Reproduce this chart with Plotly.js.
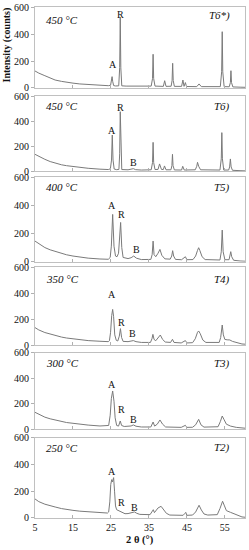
<!DOCTYPE html>
<html>
<head>
<meta charset="utf-8">
<script src="https://cdn.plot.ly/plotly-3.0.1.min.js"></script>
<style>html,body{margin:0;padding:0;background:#fff;}#chart{width:249px;height:550px;}</style>
</head>
<body>
<div id="chart"></div>
<script>
// ---- Data (2θ in degrees, intensity in counts) ----
const tempLabels = ["450 °C", "450 °C", "400 °C", "350 °C", "300 °C", "250 °C"];
const sampleLabels = ["T6*)", "T6)", "T5)", "T4)", "T3)", "T2)"];
const xTicks = [5, 15, 25, 35, 45, 55];
const yTicks = [0, 200, 400, 600];

const t6sX = [5,6,7.6,9,10.3,12,13.3,15,16.8,19,22.1,24.3,24.9,25.15,25.3,25.45,25.7,26.2,27.05,27.3,27.45,27.6,27.85,29,32,35.6,35.95,36.1,36.25,36.6,38.8,39.15,39.5,40.85,41.1,41.25,41.4,41.7,43.6,43.95,44.25,44.6,44.9,47.6,48.2,48.8,53.8,54.15,54.3,54.45,54.8,56.15,56.45,56.6,56.75,57.1,59,60.5];
const t6sY = [126,110,91,73,59,49,42,36,30,25,20,17,20,50,84,50,18,15,16,150,525,150,16,14,13,14,70,250,70,14,12,54,12,13,55,183,55,12,12,59,12,40,11,10,30,10,10,120,417,120,10,9,40,128,40,8,6,5];

const t6X = [5,6,7.6,9,10.3,12,13.3,15,16.8,19,22.1,24.3,24.85,25.15,25.35,25.55,25.85,26.5,27.1,27.3,27.45,27.6,27.85,29.5,30.4,30.9,31.5,33,35.6,35.95,36.1,36.25,36.6,37.4,37.8,38.3,38.8,39.1,39.5,40.8,41.05,41.2,41.35,41.7,43.6,43.9,44.3,47.2,47.6,47.8,48.1,48.6,53.7,54.05,54.2,54.35,54.7,56.0,56.25,56.45,56.65,57.0,59,60.5];
const t6Y = [136,118,96,78,64,52,45,38,31,24,17,14,20,90,291,90,18,13,15,140,478,140,14,12,14,21,13,10,12,70,232,70,14,15,59,15,14,43,12,12,45,136,45,11,10,40,10,12,40,72,40,12,10,100,310,100,10,10,35,99,35,8,5,3];

const t5X = [5,6,7.6,9,10.3,12,13.3,15,16.8,19,22.1,24.3,24.8,25.1,25.45,25.8,26.2,26.6,27.0,27.3,27.55,27.85,28.2,29.5,30.3,31.0,31.7,33,35.5,35.85,36.1,36.35,36.8,37.4,37.9,38.4,39.2,40.6,41.0,41.25,41.5,42,43.6,44.6,45.0,46.6,47.3,47.8,48.1,48.4,49.0,49.8,53.7,54.05,54.3,54.55,55.0,56.1,56.35,56.55,56.8,57.3,59,60.5];
const t5Y = [146,126,100,84,72,57,49,40,32,25,19,17,30,110,335,110,40,35,60,150,278,100,30,22,28,40,25,15,16,50,146,50,35,60,87,45,20,18,40,78,40,16,14,35,14,15,40,80,99,80,35,15,12,70,224,70,14,14,40,71,35,10,5,3];

const t4X = [5,6,7.6,9,10.3,12,13.3,15,16.8,19,22.1,24.3,24.6,24.9,25.2,25.45,25.7,26.0,26.4,26.8,27.2,27.5,27.8,28.2,29.5,30.3,30.9,31.6,33,35.4,35.8,36.05,36.35,36.8,37.4,38.0,38.6,39.3,40.7,41.2,41.6,43.5,44.6,45.0,46.5,47.2,47.8,48.1,48.5,49.2,50,53.5,53.9,54.3,54.6,55.0,55.6,56.3,57.0,58,59.5,60.5];
const t4Y = [136,118,98,86,79,63,56,49,42,36,31,28,35,100,230,276,220,80,38,33,70,128,60,30,28,30,36,28,22,22,50,84,45,35,60,79,45,25,22,46,22,18,36,18,20,50,100,110,90,40,22,22,60,156,80,45,42,41,30,20,10,8];

const t3X = [5,6,7.6,9,10.3,12,13.3,15,16.8,19,22.1,24.1,24.4,24.8,25.1,25.45,25.8,26.1,26.5,27.0,27.45,27.8,28.5,30.3,30.9,31.6,33,35.5,36.1,36.5,37.2,37.9,38.6,39.4,40.7,41.2,41.6,43.5,44.6,45.0,46.5,47.3,48.1,48.7,49.5,53.2,53.8,54.3,54.8,55.4,56.5,58,60.5];
const t3Y = [133,116,95,82,73,60,53,47,40,33,26,26,30,110,240,300,220,90,30,25,65,30,22,26,34,24,18,18,57,25,40,73,40,18,17,21,17,15,31,15,16,35,78,35,17,20,60,104,75,40,25,15,8];

const t2X = [5,6,7.6,9,10.3,12,13.3,15,16.8,19,22.1,24.1,24.4,24.7,24.95,25.2,25.4,25.7,25.95,26.2,26.5,27.0,27.6,28.0,28.7,29.5,30.4,31.2,31.8,32.6,35.3,35.8,36.15,36.45,36.8,37.4,38.2,38.8,39.6,40.5,42,44.0,44.5,44.7,45.0,46.5,47.3,48.2,48.8,49.5,50.5,53.0,53.7,54.4,54.9,55.4,56.5,57.5,58.5,59.5,60.5];
const t2Y = [142,122,103,90,82,70,63,57,51,46,40,37,45,120,250,286,269,301,200,90,62,55,50,45,32,33,38,45,35,27,25,45,62,40,50,75,87,65,35,22,20,20,35,42,20,22,45,95,60,30,22,25,70,125,90,55,42,30,15,8,5];

const seriesX = [t6sX, t6X, t5X, t4X, t3X, t2X];
const seriesY = [t6sY, t6Y, t5Y, t4Y, t3Y, t2Y];

// Phase labels (A = anatase, R = rutile, B = brookite): [text, 2θ, label height]
const phaseLabels = [
  [["A", 25.6, 175], ["R", 27.5, 541]],
  [["A", 25.35, 331], ["R", 27.5, 513], ["B", 30.9, 69]],
  [["A", 25.4, 401], ["R", 27.7, 335], ["B", 31.6, 83]],
  [["A", 25.35, 394], ["R", 27.8, 177], ["B", 30.8, 87]],
  [["A", 25.35, 352], ["R", 27.7, 157], ["B", 31.0, 73]],
  [["A", 25.3, 349], ["R", 27.9, 117], ["B", 31.3, 77]]
];

// ---- Layout ----
const FONT = "Liberation Serif";
const domains = [[0.8415, 1.0], [0.6785, 0.8249], [0.5016, 0.6673], [0.338, 0.4906], [0.1736, 0.3235], [0, 0.1575]];
const tempY = [0.84, 0.87, 0.88, 0.85, 0.865, 0.87];
const sampY = [0.89, 0.87, 0.88, 0.85, 0.865, 0.87];

const traces = [];
const layout = {
  width: 249, height: 550,
  margin: {l: 35, r: 4, t: 7, b: 32},
  paper_bgcolor: "#fff", plot_bgcolor: "#fff",
  showlegend: false,
  font: {family: FONT, size: 10, color: "#000"},
  annotations: []
};

for (let i = 0; i < 6; i++) {
  const n = i + 1;
  const xa = "xaxis" + (n === 1 ? "" : n);
  const ya = "yaxis" + (n === 1 ? "" : n);
  const xr = "x" + (n === 1 ? "" : n);
  const yr = "y" + (n === 1 ? "" : n);
  traces.push({
    x: seriesX[i], y: seriesY[i], xaxis: xr, yaxis: yr,
    type: "scatter", mode: "lines",
    line: {color: "#7a7a7a", width: 1},
    hoverinfo: "skip"
  });
  layout[xa] = {
    anchor: yr, range: [5, 60.3], tickvals: xTicks, ticktext: xTicks.map(String),
    showticklabels: n === 6, ticks: "inside", ticklen: 3, tickcolor: "#b0b0b0",
    showline: true, mirror: true, linecolor: "#c0c0c0", linewidth: 1,
    showgrid: false, zeroline: false, fixedrange: true,
    tickfont: {family: FONT, size: 10, color: "#111"}
  };
  layout[ya] = {
    anchor: xr, domain: domains[i], range: [0, 600], tickvals: yTicks,
    ticks: "outside", ticklen: 3, tickcolor: "#b0b0b0",
    showline: true, mirror: true, linecolor: "#c0c0c0", linewidth: 1,
    showgrid: false, zeroline: false, fixedrange: true,
    tickfont: {family: FONT, size: 10, color: "#111"}
  };
  layout.annotations.push({
    xref: xr + " domain", yref: yr + " domain", x: 0.045, y: tempY[i],
    xanchor: "left", yanchor: "middle", showarrow: false,
    text: "<i>" + tempLabels[i] + "</i>", font: {family: FONT, size: 11, color: "#111"}
  });
  layout.annotations.push({
    xref: xr + " domain", yref: yr + " domain", x: 0.94, y: sampY[i],
    xanchor: "right", yanchor: "middle", showarrow: false,
    text: "<i>" + sampleLabels[i] + "</i>", font: {family: FONT, size: 11, color: "#111"}
  });
  phaseLabels[i].forEach(function (p) {
    layout.annotations.push({
      xref: xr, yref: yr, x: p[1], y: p[2], xanchor: "center", yanchor: "middle",
      showarrow: false, text: p[0], font: {family: FONT, size: 10, color: "#111"}
    });
  });
}

layout.annotations.push({
  xref: "paper", yref: "paper", x: -0.135, y: 0.926, xanchor: "center", yanchor: "middle",
  textangle: -90, showarrow: false, text: "<b>Intensity (counts)</b>",
  font: {family: FONT, size: 10, color: "#111"}
});
layout.annotations.push({
  xref: "paper", yref: "paper", x: 0.5, y: -0.043, xanchor: "center", yanchor: "middle",
  showarrow: false, text: "<b>2 θ (°)</b>",
  font: {family: FONT, size: 10.5, color: "#111"}
});

Plotly.newPlot("chart", traces, layout, {displayModeBar: false, staticPlot: true});
</script>
</body>
</html>
